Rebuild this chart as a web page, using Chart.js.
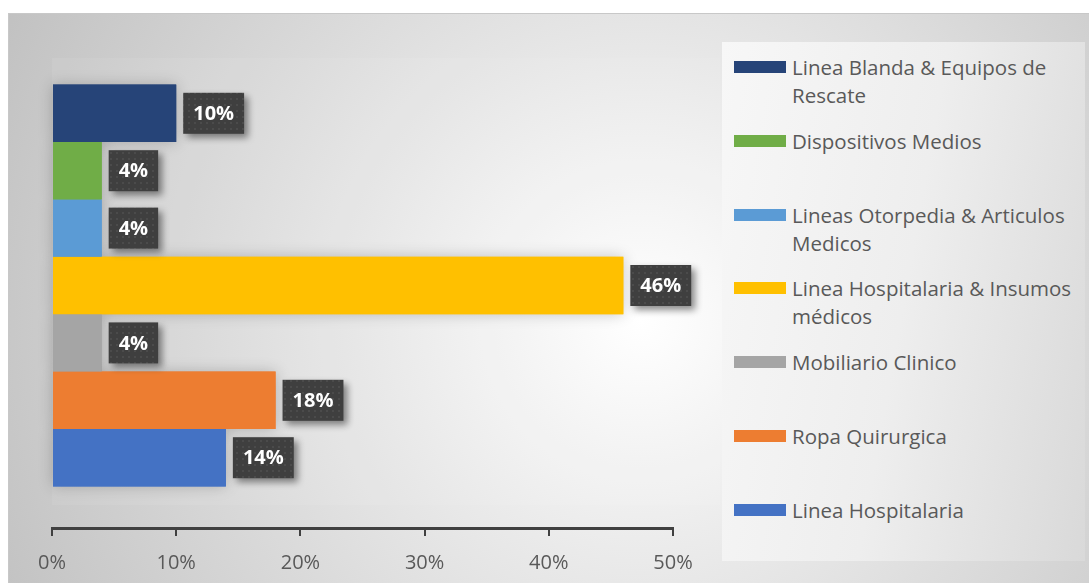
<!DOCTYPE html>
<html>
<head>
<meta charset="utf-8">
<script src="https://cdn.jsdelivr.net/npm/chart.js@4/dist/chart.umd.min.js"></script>
<style>
  html, body { margin: 0; padding: 0; background: #fff; overflow: hidden; }
  #wrap {
    position: absolute; left: 8px; top: 13px; width: 1081px; height: 570px;
    background: radial-gradient(circle 720px at 632px 307px, #ffffff 0%, #c0c0c0 100%);
    border-top: 1px solid #c8c8c8; border-left: 1px solid #c8c8c8;
    box-sizing: border-box;
  }
  #legendBox {
    position: absolute; left: 722px; top: 42px; width: 363px; height: 519px;
    background: linear-gradient(100deg, #f7f7f7 0%, #eeeeee 50%, #d9d9d9 100%);
  }
  .item { position: absolute; left: 12px; width: 345px; }
  .swatch { position: absolute; left: 0; top: 8px; width: 52px; height: 12px; }
  .label {
    position: absolute; left: 58px; width: 292px;
    font-family: "Open Sans", sans-serif; font-size: 20.5px; line-height: 28px; color: #595959;
  }
  canvas { position: absolute; left: 0; top: 0; }
</style>
</head>
<body>
<div id="wrap"></div>
<div id="legendBox"></div>
<canvas id="chart" width="720" height="590"></canvas>
<script>
// product lines and their share of sales (%)
const categories = [
  'Linea Blanda & Equipos de Rescate',
  'Dispositivos Medios',
  'Lineas Otorpedia & Articulos Medicos',
  'Linea Hospitalaria & Insumos médicos',
  'Mobiliario Clinico',
  'Ropa Quirurgica',
  'Linea Hospitalaria'
];
const shares = [10, 4, 4, 46, 4, 18, 14];
const colors = ['#264478', '#70AD47', '#5B9BD5', '#FFC000', '#A5A5A5', '#ED7D31', '#4472C4'];
const tickValues = [0, 10, 20, 30, 40, 50];

// legend on the right, one slot per line of product
const legendBox = document.getElementById('legendBox');
categories.forEach((name, i) => {
  const item = document.createElement('div');
  item.className = 'item';
  item.style.top = (11 + i * 73.8) + 'px';
  const sw = document.createElement('div');
  sw.className = 'swatch';
  sw.style.background = colors[i];
  const lb = document.createElement('div');
  lb.className = 'label';
  lb.textContent = name;
  item.appendChild(sw);
  item.appendChild(lb);
  legendBox.appendChild(item);
});

// small dotted fill for the value boxes
function dotPattern(ctx) {
  const c = document.createElement('canvas');
  c.width = 6; c.height = 6;
  const p = c.getContext('2d');
  p.fillStyle = '#3f3f3f';
  p.fillRect(0, 0, 6, 6);
  p.fillStyle = '#4b4b4b';
  p.fillRect(2, 2, 2, 2);
  return ctx.createPattern(c, 'repeat');
}

const plotFill = {
  id: 'plotFill',
  beforeDraw(chart) {
    const ctx = chart.ctx, a = chart.chartArea;
    ctx.save();
    ctx.fillStyle = 'rgba(255,255,255,0.07)';
    ctx.fillRect(a.left, 58, chart.width - a.left, 505 - 58);
    ctx.restore();
  }
};

// soft shadow behind the bars, painted before the bars cover it
const barShadow = {
  id: 'barShadow',
  beforeDatasetsDraw(chart) {
    const ctx = chart.ctx;
    ctx.save();
    ctx.shadowColor = 'rgba(0,0,0,0.22)';
    ctx.shadowBlur = 14;
    chart.data.datasets.forEach((ds, i) => {
      const bar = chart.getDatasetMeta(i).data[0];
      const left = Math.min(bar.x, bar.base);
      ctx.fillStyle = ds.backgroundColor;
      ctx.fillRect(left, bar.y - bar.height / 2, Math.abs(bar.x - bar.base), bar.height);
    });
    ctx.restore();
  }
};

const valueBoxes = {
  id: 'valueBoxes',
  afterDatasetsDraw(chart) {
    const ctx = chart.ctx;
    const fill = dotPattern(ctx);
    ctx.save();
    ctx.font = 'bold 20px "Open Sans", sans-serif';
    ctx.textAlign = 'center';
    ctx.textBaseline = 'middle';
    chart.data.datasets.forEach((ds, i) => {
      const bar = chart.getDatasetMeta(i).data[0];
      const text = ds.data[0] + '%';
      const w = ctx.measureText(text).width + 20;
      const h = 41;
      const x = bar.x + 7, y = bar.y - h / 2;
      ctx.save();
      ctx.shadowColor = 'rgba(0,0,0,0.45)';
      ctx.shadowBlur = 7;
      ctx.shadowOffsetX = 4;
      ctx.shadowOffsetY = 4;
      ctx.fillStyle = fill;
      ctx.fillRect(x, y, w, h);
      ctx.restore();
      ctx.fillStyle = '#ffffff';
      ctx.fillText(text, x + w / 2, bar.y + 1);
    });
    ctx.restore();
  }
};

new Chart(document.getElementById('chart'), {
  type: 'bar',
  data: {
    labels: [''],
    datasets: categories.map((name, i) => ({
      label: name,
      data: [shares[i]],
      backgroundColor: colors[i],
      categoryPercentage: 0.8285,
      barPercentage: 1
    }))
  },
  options: {
    indexAxis: 'y',
    responsive: false,
    animation: false,
    layout: { padding: { left: 52, right: 47, top: 43, bottom: 0 } },
    plugins: { legend: { display: false }, tooltip: { enabled: false } },
    scales: {
      x: {
        min: tickValues[0],
        max: tickValues[tickValues.length - 1],
        afterBuildTicks(scale) { scale.ticks = tickValues.map(v => ({ value: v })); },
        ticks: {
          callback: v => v + '%',
          color: '#595959',
          font: { family: '"Open Sans", sans-serif', size: 20 },
          padding: 15
        },
        grid: { drawOnChartArea: false, tickLength: 8, color: '#404040', lineWidth: 2 },
        border: { display: true, color: '#404040', width: 3 }
      },
      y: { display: false }
    }
  },
  plugins: [plotFill, barShadow, valueBoxes]
});
</script>
</body>
</html>
